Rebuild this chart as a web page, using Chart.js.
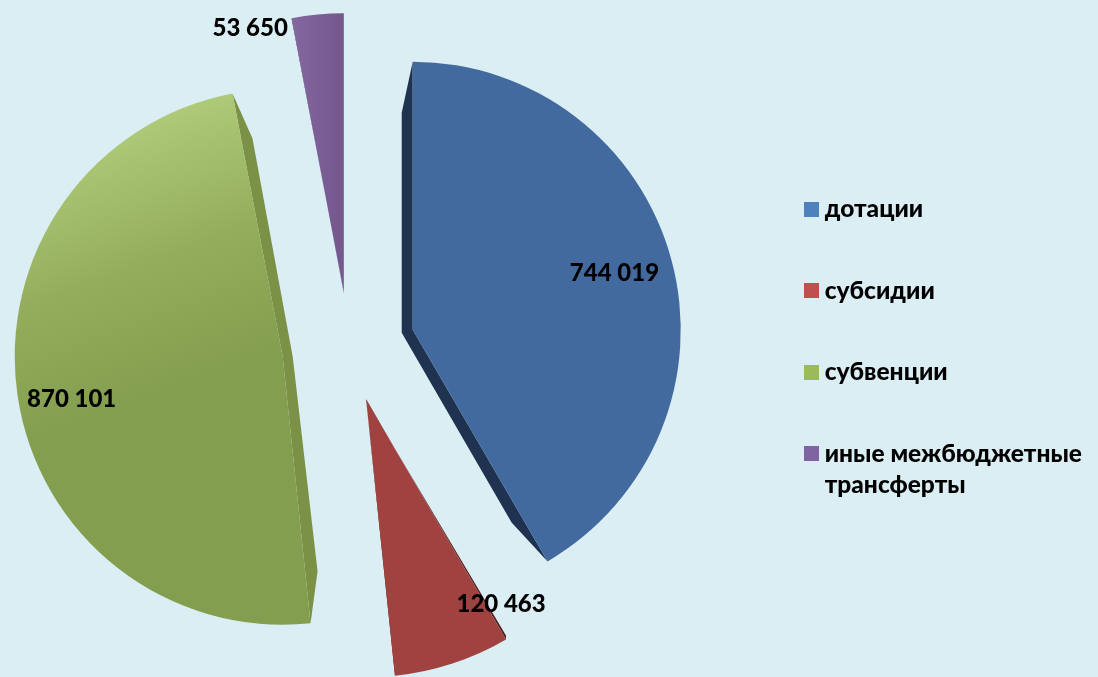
<!DOCTYPE html>
<html lang="ru">
<head>
<meta charset="utf-8">
<title>Межбюджетные трансферты</title>
<script src="https://cdn.jsdelivr.net/npm/chart.js@4/dist/chart.umd.min.js"></script>
<style>
  html, body { margin: 0; padding: 0; background: #dbeef4; }
  #wrap { position: relative; width: 1098px; height: 677px; overflow: hidden; }
</style>
</head>
<body>
<div id="wrap"><canvas id="pieChart"></canvas></div>
<script>
// Data
const categories = ['дотации', 'субсидии', 'субвенции', ['иные межбюджетные', 'трансферты']];
const values = [744019, 120463, 870101, 53650];

// Slice styling
const legendColors = ['#4f81bd', '#c0504d', '#9bbb59', '#8064a2'];
const wallColors = ['#1f324f', '#4f2220', '#7a9146', '#3f3158'];
const sliceOffsets = [66, 55, 67, 55];
const sliceRadii = [268, 278, 268, 279];
const PIE_AREA_WIDTH = 698;
const FONT = 'Lato, "Noto Sans", sans-serif';

// Fake 3D walls: shift of the rim at slice start, the tip and the rim at slice end
const wallStart = [[-11, 51], [0, -4], [7, -52], [1, 3]];
const wallTip = [[-11, 3], [0, 1], [10, 0], [0, 1]];
const wallEnd = [[-36, -39], [1, -4], [20, 45], [0, 0]];

// Value labels: distance from slice tip and angle relative to the slice middle
const labelDistance = [210, 244, 215, 282];
const labelAngle = [-1, -15.5, -2.6, -14];
const LABEL_NUDGE_Y = 2;

function sliceFill(context) {
  const g = context.chart.ctx;
  let grad;
  switch (context.dataIndex) {
    case 2:
      grad = g.createLinearGradient(90, 130, 190, 400);
      grad.addColorStop(0, '#b3d07f');
      grad.addColorStop(0.55, '#93ad5c');
      grad.addColorStop(1, '#839e4e');
      return grad;
    case 3:
      grad = g.createLinearGradient(295, 0, 343, 0);
      grad.addColorStop(0, '#85689f');
      grad.addColorStop(1, '#74588e');
      return grad;
    case 1:
      return '#a0423f';
    default:
      return '#426a9e';
  }
}

// Legend swatch as a small canvas, so the gap to the text can be tighter than the default
function swatch(color) {
  const c = document.createElement('canvas');
  c.width = 15;
  c.height = 15;
  const g = c.getContext('2d');
  g.fillStyle = color;
  g.fillRect(0, 0, 15, 15);
  return c;
}

// An arc with an offset gets drawn bigger and trimmed a little, these two undo that
function radiusGrowth(arc, i) {
  return sliceOffsets[i] * (1 - Math.sin(Math.min(Math.PI, arc.circumference)));
}

function angleTrim(arc, i) {
  return radiusGrowth(arc, i) / (2 * Math.PI * sliceRadii[i]);
}

function geometry(arc, i) {
  const mid = (arc.startAngle + arc.endAngle) / 2;
  const start = arc.startAngle + angleTrim(arc, i);
  const end = arc.endAngle - angleTrim(arc, i);
  const tip = { x: arc.x + Math.cos(mid) * sliceOffsets[i], y: arc.y + Math.sin(mid) * sliceOffsets[i] };
  return { mid, start, end, tip };
}

const sliceSizePlugin = {
  id: 'sliceSize',
  // the legend takes less room than the pie's box leaves free, so the box is set here
  afterLayout(chart) {
    chart.chartArea.left = 0;
    chart.chartArea.right = PIE_AREA_WIDTH;
    chart.chartArea.width = PIE_AREA_WIDTH;
  },
  afterDatasetsUpdate(chart) {
    chart.getDatasetMeta(0).data.forEach((arc, i) => {
      arc.outerRadius = sliceRadii[i] - radiusGrowth(arc, i);
      arc.startAngle -= angleTrim(arc, i);
      arc.endAngle += angleTrim(arc, i);
    });
  },
};

// Side walls behind each slice
const wallsPlugin = {
  id: 'walls',
  beforeDatasetsDraw(chart) {
    const g = chart.ctx;
    chart.getDatasetMeta(0).data.forEach((arc, i) => {
      const { start, end, tip } = geometry(arc, i);
      const r = sliceRadii[i];
      const s = { x: tip.x + Math.cos(start) * r, y: tip.y + Math.sin(start) * r };
      const e = { x: tip.x + Math.cos(end) * r, y: tip.y + Math.sin(end) * r };
      g.save();
      g.fillStyle = wallColors[i];
      g.beginPath();
      g.moveTo(s.x, s.y);
      g.lineTo(s.x + wallStart[i][0], s.y + wallStart[i][1]);
      g.lineTo(tip.x + wallTip[i][0], tip.y + wallTip[i][1]);
      g.lineTo(e.x + wallEnd[i][0], e.y + wallEnd[i][1]);
      g.lineTo(e.x, e.y);
      g.lineTo(tip.x, tip.y);
      g.closePath();
      g.fill();
      g.restore();
    });
  },
};

// Value labels on top of the slices
const valueLabelsPlugin = {
  id: 'valueLabels',
  afterDatasetsDraw(chart) {
    const g = chart.ctx;
    g.save();
    g.font = '900 24px ' + FONT;
    g.fillStyle = '#000';
    g.textAlign = 'center';
    g.textBaseline = 'middle';
    chart.getDatasetMeta(0).data.forEach((arc, i) => {
      const { mid, tip } = geometry(arc, i);
      const a = mid + labelAngle[i] * Math.PI / 180;
      const text = String(values[i]).replace(/\B(?=(\d{3})+$)/g, ' ');
      g.fillText(text, tip.x + Math.cos(a) * labelDistance[i], tip.y + Math.sin(a) * labelDistance[i] + LABEL_NUDGE_Y);
    });
    g.restore();
  },
};

new Chart(document.getElementById('pieChart'), {
  type: 'pie',
  data: {
    labels: categories,
    datasets: [{
      data: values,
      backgroundColor: sliceFill,
      borderWidth: 0,
      offset: sliceOffsets.map(d => d * 4),
    }],
  },
  options: {
    responsive: true,
    maintainAspectRatio: false,
    animation: false,
    radius: 268,
    clip: false,
    layout: { padding: { left: 0, right: 6, top: 17, bottom: 0 } },
    plugins: {
      tooltip: { enabled: false },
      legend: {
        position: 'right',
        title: { display: true, text: ' ', font: { size: 1, lineHeight: 1 }, padding: { top: 3, bottom: 3 } },
        labels: {
          boxHeight: 15,
          usePointStyle: true,
          pointStyleWidth: 2,
          padding: 57,
          font: { family: FONT, size: 24.5, weight: '900', lineHeight: 1.27 },
          generateLabels: () => categories.map((text, i) => ({
            text,
            fontColor: '#000',
            fillStyle: legendColors[i],
            strokeStyle: legendColors[i],
            lineWidth: 0,
            pointStyle: swatch(legendColors[i]),
            index: i,
            datasetIndex: 0,
          })),
        },
      },
    },
  },
  plugins: [sliceSizePlugin, wallsPlugin, valueLabelsPlugin],
});
</script>
</body>
</html>
